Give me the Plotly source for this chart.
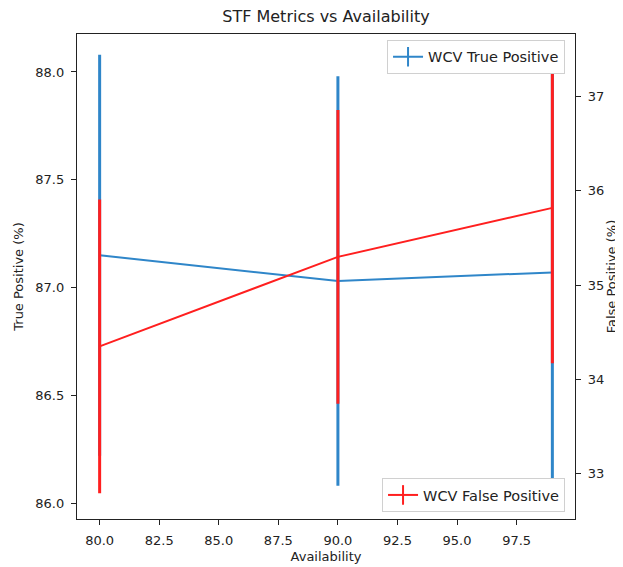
import plotly.graph_objects as go

availability = [80, 90, 99]
tp_mean = [87.15, 87.03, 87.07]
tp_err = [0.93, 0.95, 1.02]
fp_mean = [34.35, 35.30, 35.82]
fp_err = [1.56, 1.56, 1.65]

x_ticks = [80.0, 82.5, 85.0, 87.5, 90.0, 92.5, 95.0, 97.5]
tp_ticks = [86.0, 86.5, 87.0, 87.5, 88.0]
fp_ticks = [33, 34, 35, 36, 37]

BLUE = "#2f86c9"
RED = "#ff1f1f"
FONT = "DejaVu Sans"

W, H = 615, 559

fig = go.Figure()
fig.add_trace(go.Scatter(
    x=availability, y=tp_mean, mode="lines", yaxis="y",
    line=dict(color=BLUE, width=2),
    error_y=dict(type="data", array=tp_err, color=BLUE, thickness=3, width=0),
    showlegend=False, name="WCV True Positive"))
fig.add_trace(go.Scatter(
    x=availability, y=fp_mean, mode="lines", yaxis="y2",
    line=dict(color=RED, width=2),
    error_y=dict(type="data", array=fp_err, color=RED, thickness=3, width=0),
    showlegend=False, name="WCV False Positive"))
# legend entries
fig.add_trace(go.Scatter(
    x=[None], y=[None], mode="lines+markers", name="WCV True Positive",
    line=dict(color=BLUE, width=2),
    marker=dict(symbol="line-ns-open", size=14, line=dict(color=BLUE, width=2)),
    legend="legend"))
fig.add_trace(go.Scatter(
    x=[None], y=[None], mode="lines+markers", name="WCV False Positive",
    yaxis="y2",
    line=dict(color=RED, width=2),
    marker=dict(symbol="line-ns-open", size=14, line=dict(color=RED, width=2)),
    legend="legend2"))

axis_common = dict(showgrid=False, zeroline=False, showline=True, linecolor="#222",
                   linewidth=1.3, ticks="outside", ticklen=5, tickcolor="#222",
                   ticklabelstandoff=4, automargin=False,
                   tickfont=dict(size=13, color="#222", family=FONT))

fig.update_layout(
    width=W, height=H,
    margin=dict(l=69, r=48, t=26, b=48),
    paper_bgcolor="white", plot_bgcolor="white",
    font=dict(family=FONT, color="#222"),
    title=dict(text="STF Metrics vs Availability", x=(69 + 567) / 2 / W, xanchor="center",
               y=1 - 8 / H, yanchor="middle", font=dict(size=16, family=FONT, color="#222")),
    xaxis=dict(range=[79.05, 99.95], tickvals=x_ticks,
               ticktext=[f"{v:.1f}" for v in x_ticks], mirror=True,
               title=dict(text="Availability", font=dict(size=13, family=FONT), standoff=5),
               **axis_common),
    yaxis=dict(range=[85.926, 88.176], tickvals=tp_ticks,
               ticktext=[f"{v:.1f}" for v in tp_ticks], mirror=False,
               title=dict(text="True Positive (%)", font=dict(size=13, family=FONT), standoff=8),
               **axis_common),
    yaxis2=dict(range=[32.517, 37.666], tickvals=fp_ticks,
                ticktext=[str(v) for v in fp_ticks], overlaying="y", side="right",
                title=dict(text="False Positive (%)", font=dict(size=13, family=FONT), standoff=2),
                **axis_common),
    legend=dict(x=0.98, xanchor="right", y=0.988, yanchor="top",
                bgcolor="white", bordercolor="#d0d0d0", borderwidth=1,
                font=dict(size=14.5, family=FONT, color="#222"), itemwidth=30,
                tracegroupgap=0),
    legend2=dict(x=0.98, xanchor="right", y=0.0144, yanchor="bottom",
                 bgcolor="white", bordercolor="#d0d0d0", borderwidth=1,
                 font=dict(size=14.5, family=FONT, color="#222"), itemwidth=30,
                 tracegroupgap=0),
)

fig.write_html("out.html")
